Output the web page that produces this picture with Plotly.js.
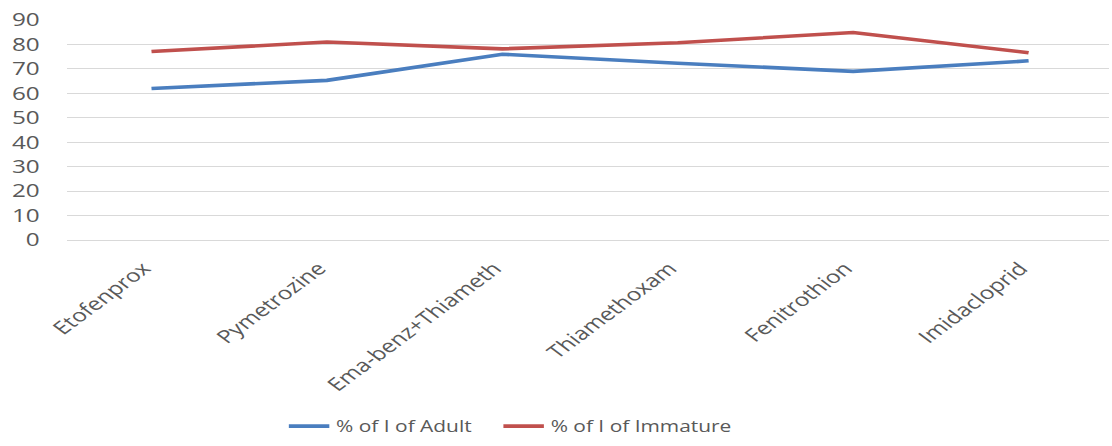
<!DOCTYPE html>
<html>
<head>
<meta charset="utf-8">
<script src="https://cdn.plot.ly/plotly-3.0.1.min.js"></script>
<style>
  html, body { margin: 0; padding: 0; background: #fff; overflow: hidden; }
  #chart { width: 824px; height: 446px; transform: scaleX(1.3495); transform-origin: 0 0; }
</style>
</head>
<body>
<div id="chart"></div>
<script>
const categories = ["Etofenprox", "Pymetrozine", "Ema-benz+Thiameth", "Thiamethoxam", "Fenitrothion", "Imidacloprid"];
const adultValues = [62, 65.3, 76, 72.3, 69, 73.3];
const immatureValues = [77.1, 81, 78.2, 80.7, 84.9, 76.6];
const seriesNames = ["% of I of Adult", "% of I of Immature"];
const yTicks = [0, 10, 20, 30, 40, 50, 60, 70, 80, 90];

const idx = categories.map((_, i) => i);
const traces = [
  { x: idx, y: adultValues, name: seriesNames[0], type: "scatter", mode: "lines",
    legendwidth: 114,
    line: { color: "#4A7EBF", width: 3.6 } },
  { x: idx, y: immatureValues, name: seriesNames[1], type: "scatter", mode: "lines",
    line: { color: "#C0504D", width: 3.6 } }
];

const layout = {
  width: 824, height: 446,
  margin: { l: 50, r: 2, t: 20, b: 203 },
  paper_bgcolor: "#fff", plot_bgcolor: "#fff",
  font: { family: "Open Sans, sans-serif", color: "#595959", size: 18 },
  showlegend: true,
  legend: { orientation: "h", x: 0.206, xanchor: "left", y: -0.848, yanchor: "middle",
            font: { size: 15.5, color: "#595959" }, traceorder: "normal" },
  xaxis: {
    tickmode: "array", tickvals: idx, ticktext: categories,
    range: [-0.479, 5.46], tickangle: -45, showgrid: false, zeroline: false,
    showline: false, ticks: "outside", ticklen: 10, tickcolor: "rgba(0,0,0,0)",
    ticklabelshift: -6,
    tickfont: { size: 18, color: "#595959" }, fixedrange: true
  },
  yaxis: {
    range: [0, 90], tickmode: "array", tickvals: yTicks, ticktext: yTicks.map(String),
    showgrid: true, gridcolor: "#d9d9d9", gridwidth: 1, zeroline: true, zerolinecolor: "#d9d9d9",
    zerolinewidth: 1, showline: false, ticks: "outside", ticklen: 16, tickcolor: "rgba(0,0,0,0)",
    tickfont: { size: 18, color: "#595959" }, fixedrange: true
  }
};

Plotly.newPlot("chart", traces, layout, { displayModeBar: false, staticPlot: true });
</script>
</body>
</html>
